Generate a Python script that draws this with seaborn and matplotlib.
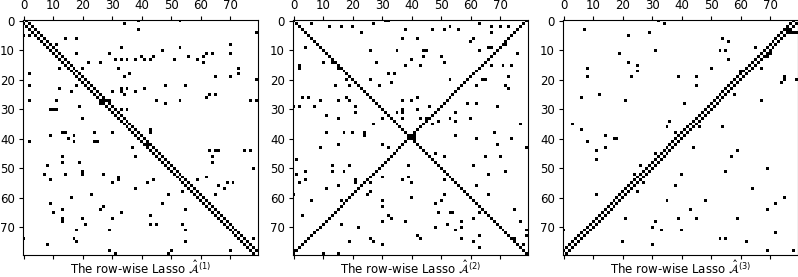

# three sparsity patterns of the estimated transition matrices

import numpy as np
import matplotlib
matplotlib.use('Agg')
import matplotlib.pyplot as plt
import seaborn as sns

N = 80
TICKS = [0, 10, 20, 30, 40, 50, 60, 70]
TITLES = [r'The row-wise Lasso $\hat{\mathcal{A}}^{(1)}$',
          r'The row-wise Lasso $\hat{\mathcal{A}}^{(2)}$',
          r'The row-wise Lasso $\hat{\mathcal{A}}^{(3)}$']

# isolated nonzeros: row index, then the columns hit in that row
rows1 = [0, 1, 3, 4, 5, 6, 8, 9, 10, 11, 12, 13, 14, 16, 18, 19, 20, 22, 23, 24, 25, 26, 27, 28, 29, 30,
         33, 37, 38, 39, 40, 41, 42, 43, 44, 46, 48, 49, 50, 51, 52, 53, 54, 55, 56, 57, 58, 59, 60,
         62, 63, 64, 65, 66, 67, 68, 69, 71, 74, 75, 76, 78, 79]
cols1 = [[39, 53], [34], [39], [79], [0, 2], [14, 18], [11, 70], [33, 53], [47], [18, 29, 62, 64, 70],
         [40, 44, 56, 61], [31, 33, 35, 38, 41, 43, 51, 59], [22, 26, 61], [12, 20, 32, 73], [2, 36, 73],
         [34, 65, 70], [79], [2, 18, 48, 55], [12, 33, 35, 41], [16, 30, 33, 38], [34, 63, 65], [62],
         [2, 11, 26, 27, 28, 29, 45, 53, 77, 79], [26, 27, 48], [19], [9, 10, 11, 33, 35],
         [20], [43], [13, 14, 24, 30, 43], [9, 17], [15], [2, 17, 24, 25], [42], [37],
         [63, 65, 66, 75, 77], [13, 38, 64], [13, 19, 64], [8], [78], [20], [7, 14, 20, 27], [32, 62],
         [9, 32, 44, 59], [30, 42, 69, 71], [66], [38, 68], [54], [23, 49, 65], [16],
         [9, 47], [27], [13, 26, 55], [10, 33], [43], [13, 20, 30], [13], [21, 43, 45, 54], [18, 29, 55],
         [0, 17, 78], [18, 55], [8, 75], [29, 50, 70], [31, 49]]

rows2 = [0, 1, 2, 3, 4, 6, 7, 8, 9, 10, 11, 12, 13, 14, 15, 16, 18, 19, 20, 21, 22, 23, 26, 27, 28, 29,
         30, 31, 32, 33, 34, 35, 38, 39, 40, 42, 43, 45, 46, 47, 49, 51, 52, 53, 54, 55, 56, 57, 58,
         59, 60, 61, 62, 63, 64, 65, 66, 67, 68, 69, 70, 71, 73, 74, 75, 76, 77, 78, 79]
cols2 = [[31, 32], [6, 27, 63], [12, 16, 20, 53, 67, 70, 73], [38, 47, 51, 56], [23, 67], [37, 42, 61],
         [60, 72], [72], [4, 66, 67], [26, 35, 44, 45, 63], [76], [44, 50], [40], [10, 13, 14, 28, 51],
         [2, 38, 43, 67, 71, 74], [2, 15], [32, 34], [73], [18, 26, 53, 64, 65], [33],
         [14, 19, 29, 62, 72], [73], [3, 5, 18, 42], [9, 15, 19, 37, 40], [59, 62], [0, 2, 7, 21, 46, 69],
         [37, 42], [21, 35, 37, 55], [11], [15, 30, 37, 43, 45, 53, 60], [49, 55], [27, 47, 77],
         [11, 17, 20, 24, 68], [24, 39, 40, 41, 55], [39, 40, 41, 62, 74], [15, 30, 69], [9, 32, 79], [48],
         [51, 65, 70], [1], [13, 19, 39, 61], [4, 13, 17, 51, 72], [1, 66], [26, 30, 39], [4, 21, 37, 51],
         [2, 21, 26, 40], [15, 62], [11], [26],
         [0, 25, 51, 66], [40], [6, 16, 30, 50], [48], [30], [75], [49, 53, 54, 63], [3, 32], [33, 61],
         [30, 38, 57, 77], [16, 52], [22, 48, 57], [55, 79], [42, 63, 79], [26, 43, 57, 75], [19, 27, 61],
         [30, 78], [63], [0, 1], [0, 10, 15]]

rows3 = [0, 1, 3, 4, 5, 6, 7, 9, 10, 11, 12, 13, 14, 15, 16, 17, 18, 19, 20, 21, 22, 25, 26, 27, 28,
         34, 35, 36, 37, 38, 39, 40, 41, 43, 44, 45, 46, 47, 49, 50, 51, 52, 55, 56, 57, 58, 59, 60,
         61, 62, 64, 67, 68, 70, 71, 72, 74, 75, 76, 78]
cols3 = [[32], [34], [7, 76, 77], [29, 76, 77, 78, 79], [22], [54], [56], [65], [31, 53, 55], [19, 70],
         [69], [56], [22], [25], [8, 50, 67], [25, 60], [60], [8, 23, 39, 45, 75], [75, 79], [74], [45],
         [12, 58], [6], [21, 67], [41],
         [36], [3], [35, 46, 54], [6], [38], [14], [17, 18], [8], [14, 44], [11, 59], [31], [57], [11],
         [26], [69], [55], [24, 40], [27], [38], [64], [25], [11], [75],
         [35, 48], [72], [43, 69], [21, 39, 45, 59], [31], [30], [0, 33, 40], [72], [53, 55], [20, 62],
         [30], [69, 78]]

# which diagonals are filled: offsets from the main diagonal, and from the anti-diagonal
diag1, anti1 = [-1, 1], []
diag2, anti2 = [0], [0]
diag3, anti3 = [], [-1, 1]


def build_matrix(rows, cols, diags, antis):
    m = np.zeros((N, N), dtype=bool)
    for r, hit in zip(rows, cols):
        m[r, hit] = True
    for k in diags:
        m |= np.eye(N, k=k, dtype=bool)
    for k in antis:
        m |= np.fliplr(np.eye(N, k=k, dtype=bool))
    return m


def plot_pattern(ax, m, title):
    sns.heatmap(m.astype(float), mask=~m, ax=ax, cmap=['black'], vmin=0, vmax=1, cbar=False,
                square=False, xticklabels=False, yticklabels=False, antialiased=True)
    ax.set_xticks(np.array(TICKS) + 0.5, labels=TICKS)
    ax.set_yticks(np.array(TICKS) + 0.5, labels=TICKS)
    ax.tick_params(axis='x', top=True, bottom=True, labeltop=True, labelbottom=False,
                   labelsize=8.5, length=3, width=0.8, pad=2.5, rotation=0)
    ax.tick_params(axis='y', left=True, labelsize=8.5, length=3, width=0.8, pad=2.5, rotation=0)
    ax.xaxis.set_label_position('bottom')
    ax.set_xlabel(title, fontsize=8.5, labelpad=0.5)
    for s in ax.spines.values():
        s.set_visible(True)
        s.set_linewidth(0.8)
        s.set_color('black')


fig = plt.figure(figsize=(7.98, 2.77), dpi=100)
W, H = 798, 277
lefts = [22.5, 292.5, 562.5]
data = [(rows1, cols1, diag1, anti1), (rows2, cols2, diag2, anti2), (rows3, cols3, diag3, anti3)]
for left, (r, c, d, a), title in zip(lefts, data, TITLES):
    ax = fig.add_axes([left / W, 1 - 255 / H, 235.5 / W, 235.5 / H])
    plot_pattern(ax, build_matrix(r, c, d, a), title)

plt.savefig('out.png', dpi=100)
plt.close()
